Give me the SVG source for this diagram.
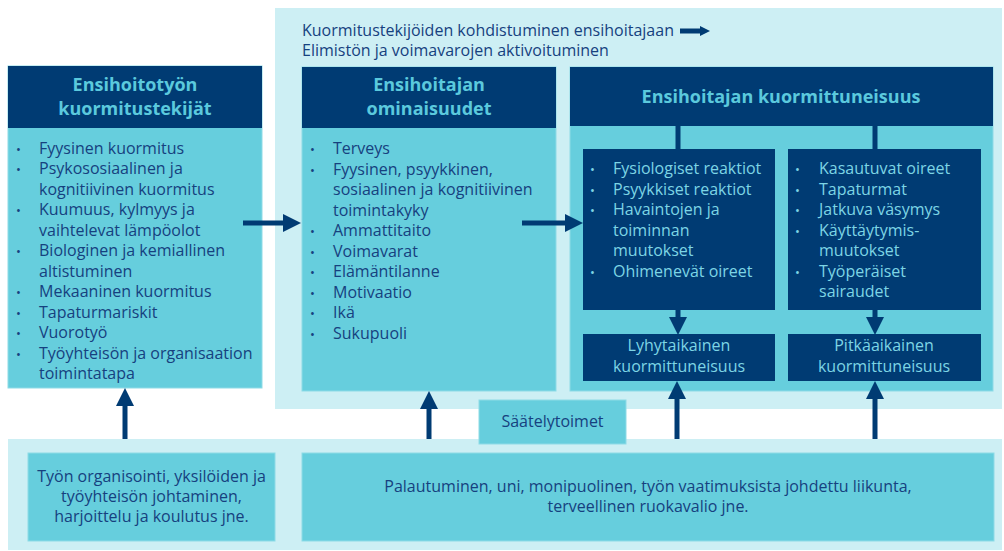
<svg xmlns="http://www.w3.org/2000/svg" width="1004" height="551" viewBox="0 0 1004 551">
<defs>
<style>
.light{fill:#CDEFF4}
.cyan{fill:#66CEDD;stroke:#8EDBE6;stroke-width:1}
.dark{fill:#003B73}
.hdr{font-family:"Open Sans","Noto Sans",sans-serif;font-weight:bold;font-size:18px;fill:#5BC9DD;text-anchor:middle}
.body{font-family:"Open Sans","Noto Sans",sans-serif;font-size:16px;fill:#16417F}
.inner{font-family:"Open Sans","Noto Sans",sans-serif;font-size:16px;fill:#7DD5E5}
.bul{font-size:13px}
.ctr{text-anchor:middle}
.conn{stroke:#003B73;stroke-width:5;fill:none}
.arr{stroke:#003B73;stroke-width:5;fill:none;marker-end:url(#ah)}
</style>
<marker id="ah" markerUnits="userSpaceOnUse" markerWidth="18" markerHeight="18" refX="0" refY="9" orient="auto" viewBox="0 0 18 18">
<path d="M0,0 L18,9 L0,18 z" fill="#003B73"/>
</marker>
<marker id="ahs" markerUnits="userSpaceOnUse" markerWidth="10" markerHeight="10" refX="0" refY="5" orient="auto" viewBox="0 0 10 10">
<path d="M0,0 L10,5 L0,10 z" fill="#003B73"/>
</marker>
</defs>
<rect width="1004" height="551" fill="#FFFFFF"/>

<g id="panel-top">
<rect class="light" x="275" y="8" width="727" height="401"/>
<text class="body" x="302" y="36">Kuormitustekijöiden kohdistuminen ensihoitajaan</text>
<text class="body" x="302" y="56">Elimistön ja voimavarojen aktivoituminen</text>
</g>

<g id="panel-bottom">
<rect class="light" x="8" y="439" width="994" height="111"/>
</g>

<g id="kuormitustekijat">
<rect class="cyan" x="8" y="66" width="254" height="322"/>
<rect class="dark" x="8" y="66" width="254" height="62"/>
<text class="hdr" x="135" y="91">Ensihoitotyön</text>
<text class="hdr" x="135" y="115">kuormitustekijät</text>
<text class="body">
<tspan class="bul" x="16" y="153.5">•</tspan><tspan x="39" y="153.5">Fyysinen kuormitus</tspan>
<tspan class="bul" x="16" y="174">•</tspan><tspan x="39" y="174">Psykososiaalinen ja</tspan>
<tspan x="39" y="194.5">kognitiivinen kuormitus</tspan>
<tspan class="bul" x="16" y="215">•</tspan><tspan x="39" y="215">Kuumuus, kylmyys ja</tspan>
<tspan x="39" y="235.5">vaihtelevat lämpöolot</tspan>
<tspan class="bul" x="16" y="256">•</tspan><tspan x="39" y="256">Biologinen ja kemiallinen</tspan>
<tspan x="39" y="276.5">altistuminen</tspan>
<tspan class="bul" x="16" y="297">•</tspan><tspan x="39" y="297">Mekaaninen kuormitus</tspan>
<tspan class="bul" x="16" y="317.5">•</tspan><tspan x="39" y="317.5">Tapaturmariskit</tspan>
<tspan class="bul" x="16" y="338">•</tspan><tspan x="39" y="338">Vuorotyö</tspan>
<tspan class="bul" x="16" y="358.5">•</tspan><tspan x="39" y="358.5">Työyhteisön ja organisaation</tspan>
<tspan x="39" y="379">toimintatapa</tspan>
</text>
</g>

<g id="ominaisuudet">
<rect class="cyan" x="302" y="67" width="254" height="324"/>
<rect class="dark" x="302" y="67" width="254" height="61"/>
<text class="hdr" x="429" y="91">Ensihoitajan</text>
<text class="hdr" x="429" y="115">ominaisuudet</text>
<text class="body">
<tspan class="bul" x="310" y="154">•</tspan><tspan x="333" y="154">Terveys</tspan>
<tspan class="bul" x="310" y="174.5">•</tspan><tspan x="333" y="174.5">Fyysinen, psyykkinen,</tspan>
<tspan x="333" y="195">sosiaalinen ja kognitiivinen</tspan>
<tspan x="333" y="215.5">toimintakyky</tspan>
<tspan class="bul" x="310" y="236">•</tspan><tspan x="333" y="236">Ammattitaito</tspan>
<tspan class="bul" x="310" y="256.5">•</tspan><tspan x="333" y="256.5">Voimavarat</tspan>
<tspan class="bul" x="310" y="277">•</tspan><tspan x="333" y="277">Elämäntilanne</tspan>
<tspan class="bul" x="310" y="297.5">•</tspan><tspan x="333" y="297.5">Motivaatio</tspan>
<tspan class="bul" x="310" y="318">•</tspan><tspan x="333" y="318">Ikä</tspan>
<tspan class="bul" x="310" y="338.5">•</tspan><tspan x="333" y="338.5">Sukupuoli</tspan>
</text>
</g>

<g id="kuormittuneisuus">
<rect class="cyan" x="570" y="67" width="423" height="324"/>
<rect class="dark" x="570" y="67" width="423" height="59"/>
<text class="hdr" x="781" y="103">Ensihoitajan kuormittuneisuus</text>
</g>

<g id="reaktiot">
<rect class="dark" x="583" y="149" width="192" height="161"/>
<text class="inner">
<tspan class="bul" x="590" y="174">•</tspan><tspan x="613" y="174">Fysiologiset reaktiot</tspan>
<tspan class="bul" x="590" y="194.5">•</tspan><tspan x="613" y="194.5">Psyykkiset reaktiot</tspan>
<tspan class="bul" x="590" y="215">•</tspan><tspan x="613" y="215">Havaintojen ja</tspan>
<tspan x="613" y="235.5">toiminnan</tspan>
<tspan x="613" y="256">muutokset</tspan>
<tspan class="bul" x="590" y="276.5">•</tspan><tspan x="613" y="276.5">Ohimenevät oireet</tspan>
</text>
</g>

<g id="oireet">
<rect class="dark" x="788" y="149" width="193" height="161"/>
<text class="inner">
<tspan class="bul" x="795" y="174">•</tspan><tspan x="819" y="174">Kasautuvat oireet</tspan>
<tspan class="bul" x="795" y="194.5">•</tspan><tspan x="819" y="194.5">Tapaturmat</tspan>
<tspan class="bul" x="795" y="215">•</tspan><tspan x="819" y="215">Jatkuva väsymys</tspan>
<tspan class="bul" x="795" y="235.5">•</tspan><tspan x="819" y="235.5">Käyttäytymis-</tspan>
<tspan x="819" y="256">muutokset</tspan>
<tspan class="bul" x="795" y="276.5">•</tspan><tspan x="819" y="276.5">Työperäiset</tspan>
<tspan x="819" y="297">sairaudet</tspan>
</text>
</g>

<g id="lyhytaikainen">
<rect class="dark" x="583" y="334" width="192" height="47"/>
<text class="inner ctr" x="679" y="351">Lyhytaikainen</text>
<text class="inner ctr" x="679" y="372">kuormittuneisuus</text>
</g>

<g id="pitkaaikainen">
<rect class="dark" x="788" y="334" width="193" height="47"/>
<text class="inner ctr" x="884" y="351">Pitkäaikainen</text>
<text class="inner ctr" x="884" y="372">kuormittuneisuus</text>
</g>

<g id="saatelytoimet">
<rect class="cyan" x="479" y="400" width="147" height="44"/>
<text class="body ctr" x="552.5" y="427" font-size="15">Säätelytoimet</text>
</g>

<g id="organisointi">
<rect class="cyan" x="28" y="453" width="247" height="88"/>
<text class="body ctr" x="151.5" y="482" font-size="15">Työn organisointi, yksilöiden ja</text>
<text class="body ctr" x="151.5" y="502" font-size="15">työyhteisön johtaminen,</text>
<text class="body ctr" x="151.5" y="522" font-size="15">harjoittelu ja koulutus jne.</text>
</g>

<g id="palautuminen">
<rect class="cyan" x="302" y="453" width="692" height="88"/>
<text class="body ctr" x="648" y="492">Palautuminen, uni, monipuolinen, työn vaatimuksista johdettu liikunta,</text>
<text class="body ctr" x="648" y="512">terveellinen ruokavalio jne.</text>
</g>

<g id="connectors">
<line class="conn" x1="680" y1="31" x2="700" y2="31" stroke-width="2.5" marker-end="url(#ahs)"/>
<line class="arr" x1="243" y1="223" x2="283" y2="223"/>
<line class="arr" x1="522" y1="223" x2="565" y2="223"/>
<line class="conn" x1="678" y1="126" x2="678" y2="149"/>
<line class="conn" x1="875" y1="126" x2="875" y2="149"/>
<line class="arr" x1="678" y1="310" x2="678" y2="317"/>
<line class="arr" x1="875" y1="310" x2="875" y2="317"/>
<line class="arr" x1="125" y1="439" x2="125" y2="406"/>
<line class="arr" x1="429" y1="439" x2="429" y2="409"/>
<line class="arr" x1="677" y1="439" x2="677" y2="399"/>
<line class="arr" x1="875" y1="439" x2="875" y2="399"/>
</g>
</svg>
